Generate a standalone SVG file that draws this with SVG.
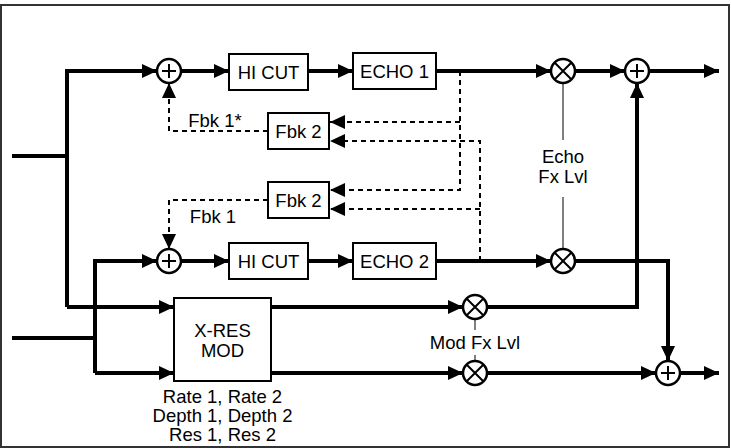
<svg xmlns="http://www.w3.org/2000/svg" width="731" height="448" viewBox="0 0 731 448">
<style>
.t{fill:none;stroke:#000;stroke-width:4}
.d{fill:none;stroke:#000;stroke-width:2;stroke-dasharray:5,4}
.n{fill:none;stroke:#000;stroke-width:1}
.s{fill:none;stroke:#000;stroke-width:2}
.b{fill:#fff;stroke:#000;stroke-width:2}
.c{fill:#fff;stroke:#000;stroke-width:2.5}
text{font-family:"Liberation Sans",Arial,sans-serif;font-size:18.5px;fill:#000;text-anchor:middle}
</style>
<defs>
<marker id="a" markerUnits="userSpaceOnUse" markerWidth="16" markerHeight="14" refX="15" refY="7" orient="auto"><path d="M0,0L15,7L0,14z" fill="#000"/></marker>
</defs>
<rect x="1" y="5" width="728" height="442" fill="#fff" stroke="#333" stroke-width="2"/>
<g id="connectors">
<path class="t" d="M12,156H67"/>
<path class="t" d="M67,307V71H157" marker-end="url(#a)"/>
<path class="t" d="M67,307H174" marker-end="url(#a)"/>
<path class="t" d="M12,338H95"/>
<path class="t" d="M95,373V261H157" marker-end="url(#a)"/>
<path class="t" d="M95,373H174" marker-end="url(#a)"/>
<path class="t" d="M181,71H229" marker-end="url(#a)"/>
<path class="t" d="M308,71H353" marker-end="url(#a)"/>
<path class="t" d="M436,71H551" marker-end="url(#a)"/>
<path class="t" d="M575,71H625" marker-end="url(#a)"/>
<path class="t" d="M649,71H719" marker-end="url(#a)"/>
<path class="t" d="M181,261H229" marker-end="url(#a)"/>
<path class="t" d="M308,261H353" marker-end="url(#a)"/>
<path class="t" d="M436,261H551" marker-end="url(#a)"/>
<path class="t" d="M575,261H668V361" marker-end="url(#a)"/>
<path class="t" d="M271,307H463" marker-end="url(#a)"/>
<path class="t" d="M487,307H637V83" marker-end="url(#a)"/>
<path class="t" d="M271,373H463" marker-end="url(#a)"/>
<path class="t" d="M487,373H656" marker-end="url(#a)"/>
<path class="t" d="M680,373H719" marker-end="url(#a)"/>
<path class="d" d="M460,71V190H330" marker-end="url(#a)"/>
<path class="d" d="M460,122H330" marker-end="url(#a)"/>
<path class="d" d="M480,261V141H330" marker-end="url(#a)"/>
<path class="d" d="M480,209H330" marker-end="url(#a)"/>
<path class="d" d="M268,131H169V83" marker-end="url(#a)"/>
<path class="d" d="M268,200H169V249" marker-end="url(#a)"/>
<path class="n" d="M563,83V140M563,197V249"/>
<path class="n" d="M475,319V330M475,355V361"/>
</g>
<g id="sum1"><circle class="c" cx="169" cy="71" r="12"/><path class="s" d="M169,64V78M162,71H176"/></g>
<g id="sum2"><circle class="c" cx="169" cy="261" r="12"/><path class="s" d="M169,254V268M162,261H176"/></g>
<g id="sum3"><circle class="c" cx="637" cy="71" r="12"/><path class="s" d="M637,64V78M630,71H644"/></g>
<g id="sum4"><circle class="c" cx="668" cy="373" r="12"/><path class="s" d="M668,366V380M661,373H675"/></g>
<g id="mul1"><circle class="c" cx="563" cy="71" r="12"/><path class="s" d="M555,63L571,79M571,63L555,79"/></g>
<g id="mul2"><circle class="c" cx="563" cy="261" r="12"/><path class="s" d="M555,253L571,269M571,253L555,269"/></g>
<g id="mul3"><circle class="c" cx="475" cy="307" r="12"/><path class="s" d="M467,299L483,315M483,299L467,315"/></g>
<g id="mul4"><circle class="c" cx="475" cy="373" r="12"/><path class="s" d="M467,365L483,381M483,365L467,381"/></g>
<g id="hicut1"><rect class="b" x="229" y="54" width="79" height="36"/><text x="268.5" y="79">HI CUT</text></g>
<g id="echo1"><rect class="b" x="353" y="53" width="83" height="36"/><text x="394.5" y="78">ECHO 1</text></g>
<g id="hicut2"><rect class="b" x="229" y="243" width="79" height="36"/><text x="268.5" y="268">HI CUT</text></g>
<g id="echo2"><rect class="b" x="353" y="243" width="83" height="36"/><text x="394.5" y="268">ECHO 2</text></g>
<g id="fbk2a"><rect class="b" x="268" y="113" width="61" height="36"/><text x="298.5" y="138">Fbk 2</text></g>
<g id="fbk2b"><rect class="b" x="268" y="182" width="61" height="36"/><text x="298.5" y="207">Fbk 2</text></g>
<g id="xres"><rect class="b" x="174" y="298" width="97" height="83"/><text x="222.5" y="337">X-RES</text><text x="222.5" y="357">MOD</text>
<text x="222.5" y="403">Rate 1, Rate 2</text><text x="222.5" y="422">Depth 1, Depth 2</text><text x="222.5" y="441">Res 1, Res 2</text></g>
<text x="215" y="127">Fbk 1*</text>
<text x="213" y="223">Fbk 1</text>
<text x="563" y="163">Echo</text>
<text x="563" y="183">Fx Lvl</text>
<text x="475" y="349">Mod Fx Lvl</text>
</svg>
